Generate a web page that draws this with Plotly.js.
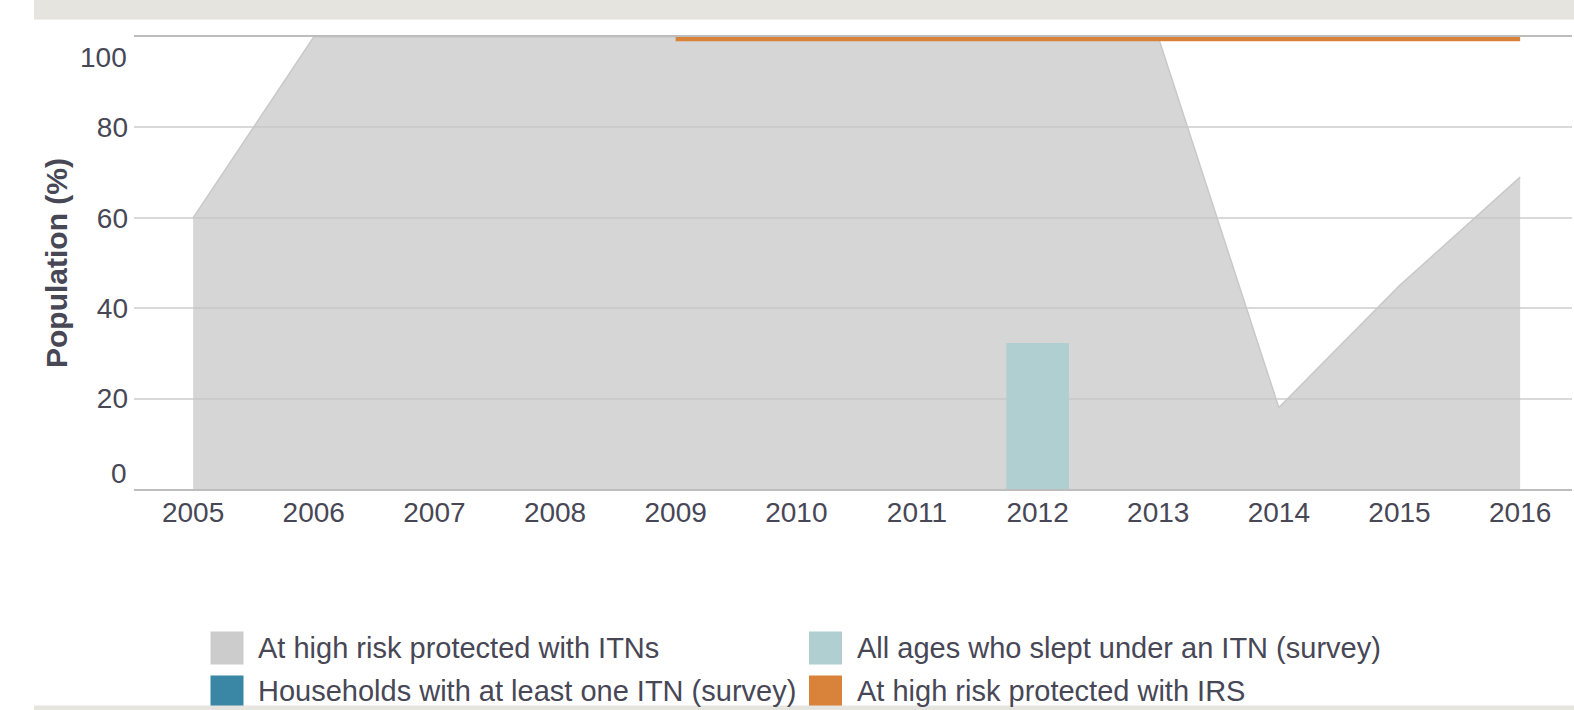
<!DOCTYPE html>
<html>
<head>
<meta charset="utf-8">
<script src="https://cdn.plot.ly/plotly-3.0.1.min.js"></script>
<style>
  html, body { margin: 0; padding: 0; background: #ffffff; }
  #chart { width: 1574px; height: 710px; }
</style>
</head>
<body>
<div id="chart"></div>
<script>
// ---- data ----
var years = [2005, 2006, 2007, 2008, 2009, 2010, 2011, 2012, 2013, 2014, 2015, 2016];
var itnHighRisk = [60, 100, 100, 100, 100, 100, 100, 100, 100, 18, 45, 69];
var surveyYears = [2012];
var allAgesSlept = [32.3];
var householdsYears = [];
var householdsOneITN = [];
var irsYears = [2009, 2010, 2011, 2012, 2013, 2014, 2015, 2016];
var irsHighRisk = [99.6, 99.6, 99.6, 99.6, 99.6, 99.6, 99.6, 99.6];
var yTickVals = [0, 20, 40, 60, 80, 100];
var yTickText = ['', '20', '40', '60', '80', ''];
var seriesNames = [
  'At high risk protected with ITNs',
  'All ages who slept under an ITN (survey)',
  'Households with at least one ITN (survey)',
  'At high risk protected with IRS'
];
var seriesColors = ['#cccccc', '#b0cfd1', '#3a87a5', '#d9823a'];

// ---- layout helpers (pixel -> paper) ----
var W = 1574, H = 710;
var ML = 134, MR = 2, MT = 37, MB = 221;
var PW = W - ML - MR, PH = H - MT - MB;
function px(x) { return (x - ML) / PW; }
function py(y) { return (H - MB - y) / PH; }

var textColor = '#474756';
var fontFam = '"Liberation Sans", Arial, Helvetica, sans-serif';

var traces = [
  {
    type: 'scatter', mode: 'lines', x: years, y: itnHighRisk,
    name: seriesNames[0], fill: 'tozeroy',
    fillcolor: 'rgba(197,197,197,0.71)',
    line: { color: '#c9c9c9', width: 1.5 },
    xaxis: 'x', yaxis: 'y', showlegend: false
  },
  {
    type: 'bar', x: surveyYears, y: allAgesSlept, name: seriesNames[1],
    width: 0.52, marker: { color: seriesColors[1], line: { width: 0 } },
    xaxis: 'x', yaxis: 'y2', showlegend: false
  },
  {
    type: 'bar', x: householdsYears, y: householdsOneITN, name: seriesNames[2],
    width: 0.52, marker: { color: seriesColors[2] },
    xaxis: 'x', yaxis: 'y2', showlegend: false
  },
  {
    type: 'scatter', mode: 'lines', x: irsYears, y: irsHighRisk,
    name: seriesNames[3], line: { color: seriesColors[3], width: 5 },
    cliponaxis: false, xaxis: 'x', yaxis: 'y2', showlegend: false
  }
];

var shapes = [
  // top grey band
  { type: 'rect', xref: 'paper', yref: 'paper', x0: px(34), x1: px(1574), y0: py(19.5), y1: py(0),
    fillcolor: '#e5e4df', line: { width: 0 }, layer: 'below' },
  // bottom grey strip
  { type: 'rect', xref: 'paper', yref: 'paper', x0: px(34), x1: px(1574), y0: py(710), y1: py(705.5),
    fillcolor: '#e5e4df', line: { width: 0 }, layer: 'above' }
];
var annotations = [
  { xref: 'paper', yref: 'y', x: 0, y: 0, xshift: -5, yshift: 16, text: '0',
    xanchor: 'right', yanchor: 'middle', showarrow: false,
    font: { family: fontFam, size: 28, color: textColor } },
  { xref: 'paper', yref: 'y', x: 0, y: 100, xshift: -5, yshift: -20, text: '100',
    xanchor: 'right', yanchor: 'middle', showarrow: false,
    font: { family: fontFam, size: 28, color: textColor } }
];

// custom legend (2 columns x 2 rows)
var legendPos = [
  { sx: 210.5, sy0: 631.5, sy1: 664.5, ty: 647.5, tx: 256 },   // ITNs
  { sx: 809, sy0: 631.5, sy1: 664.5, ty: 647.5, tx: 855 },     // all ages
  { sx: 210.5, sy0: 675.5, sy1: 708, ty: 690.5, tx: 256 },     // households
  { sx: 809, sy0: 675.5, sy1: 708, ty: 690.5, tx: 855 }        // IRS
];
for (var i = 0; i < seriesNames.length; i++) {
  var p = legendPos[i];
  shapes.push({ type: 'rect', xref: 'paper', yref: 'paper',
    x0: px(p.sx), x1: px(p.sx + 33), y0: py(p.sy1), y1: py(p.sy0),
    fillcolor: seriesColors[i], line: { width: 0 }, layer: 'below' });
  annotations.push({ xref: 'paper', yref: 'paper', x: px(p.tx), y: py(p.ty),
    text: seriesNames[i], xanchor: 'left', yanchor: 'middle', showarrow: false,
    font: { family: fontFam, size: 29, color: textColor } });
}

var layout = {
  width: W, height: H,
  margin: { l: ML, r: MR, t: MT, b: MB, pad: 0 },
  paper_bgcolor: '#ffffff', plot_bgcolor: '#ffffff',
  showlegend: false,
  barmode: 'overlay',
  font: { family: fontFam, color: textColor, size: 28 },
  xaxis: {
    range: [2004.51, 2016.43], tickvals: years, ticktext: years.map(String),
    showgrid: false, zeroline: false, showline: true, mirror: true,
    linecolor: '#bdbdbd', linewidth: 2, ticks: '', ticklabelstandoff: -3,
    tickfont: { family: fontFam, size: 28, color: textColor }, fixedrange: true
  },
  yaxis: {
    range: [0, 100], tickvals: yTickVals, ticktext: yTickText,
    showgrid: true, gridcolor: '#d9d9d9', gridwidth: 2, zeroline: false,
    showline: false, ticks: '', ticklabelstandoff: 5,
    tickfont: { family: fontFam, size: 28, color: textColor },
    title: { text: '<b>Population (%)</b>', standoff: 20,
      font: { family: fontFam, size: 30, color: textColor } },
    automargin: false, fixedrange: true
  },
  yaxis2: {
    range: [0, 100], overlaying: 'y', showgrid: false, zeroline: false,
    showticklabels: false, showline: false, ticks: '', fixedrange: true
  },
  shapes: shapes,
  annotations: annotations,
  hovermode: false
};

Plotly.newPlot('chart', traces, layout, { displayModeBar: false, staticPlot: true });
</script>
</body>
</html>
